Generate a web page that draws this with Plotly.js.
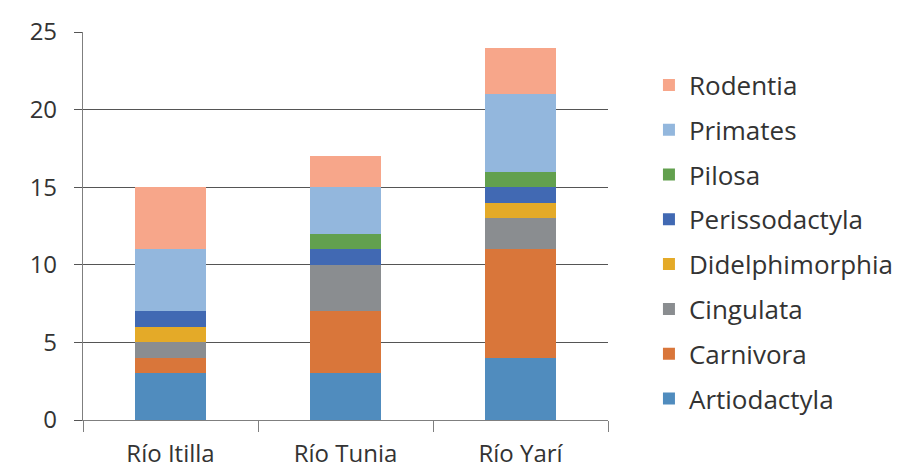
<!DOCTYPE html>
<html><head><meta charset="utf-8">
<script src="https://cdn.plot.ly/plotly-3.0.1.min.js"></script>
<style>body{margin:0;background:#fff}#chart{width:902px;height:470px}</style>
</head><body><div id="chart"></div>
<script>
const categories = ["Río Itilla", "Río Tunia", "Río Yarí"];
const seriesNames = ["Artiodactyla","Carnivora","Cingulata","Didelphimorphia","Perissodactyla","Pilosa","Primates","Rodentia"];
const artiodactyla    = [3, 3, 4];
const carnivora       = [1, 4, 7];
const cingulata       = [1, 3, 2];
const didelphimorphia = [1, 0, 1];
const perissodactyla  = [1, 1, 1];
const pilosa          = [0, 1, 1];
const primates        = [4, 3, 5];
const rodentia        = [4, 2, 3];
const yTicks = [0, 5, 10, 15, 20, 25];

const values = [artiodactyla, carnivora, cingulata, didelphimorphia, perissodactyla, pilosa, primates, rodentia];
const colors = ["#508cbe","#d9763a","#8a8d90","#e4aa28","#4169b3","#62a04e","#93b7dd","#f7a68a"];

const traces = seriesNames.map((n, i) => ({
  type: "bar", name: n, x: categories, y: values[i],
  marker: {color: colors[i], line: {width: 0}},
  legendgroup: "g" + i, legendrank: 100 - i
}));

const font = {family: "Open Sans, sans-serif", size: 24, color: "#333"};
const layout = {
  barmode: "stack", bargap: 0.595,
  width: 902, height: 470,
  margin: {l: 83, r: 294, t: 32, b: 50, autoexpand: false},
  paper_bgcolor: "#fff", plot_bgcolor: "#fff",
  font: font,
  showlegend: true,
  legend: {x: 1.078, y: 0.924, xanchor: "left", yanchor: "top", traceorder: "grouped",
           font: {family: "Open Sans, sans-serif", size: 26, color: "#333"},
           tracegroupgap: 8, itemwidth: 30},
  xaxis: {type: "category", showline: true, linecolor: "#7f7f7f", linewidth: 1.2,
          ticks: "outside", tickson: "boundaries", ticklen: 11, tickcolor: "#7f7f7f",
          showgrid: false, tickfont: font, ticklabelstandoff: 12},
  yaxis: {range: [0, 25], tickvals: yTicks, showline: true, linecolor: "#7f7f7f", linewidth: 1.2,
          ticks: "outside", ticklen: 8, tickcolor: "#555",
          gridcolor: "#555", gridwidth: 1.2, zeroline: false, tickfont: font, ticklabelstandoff: 12}
};
Plotly.newPlot("chart", traces, layout, {displayModeBar: false});
</script></body></html>
